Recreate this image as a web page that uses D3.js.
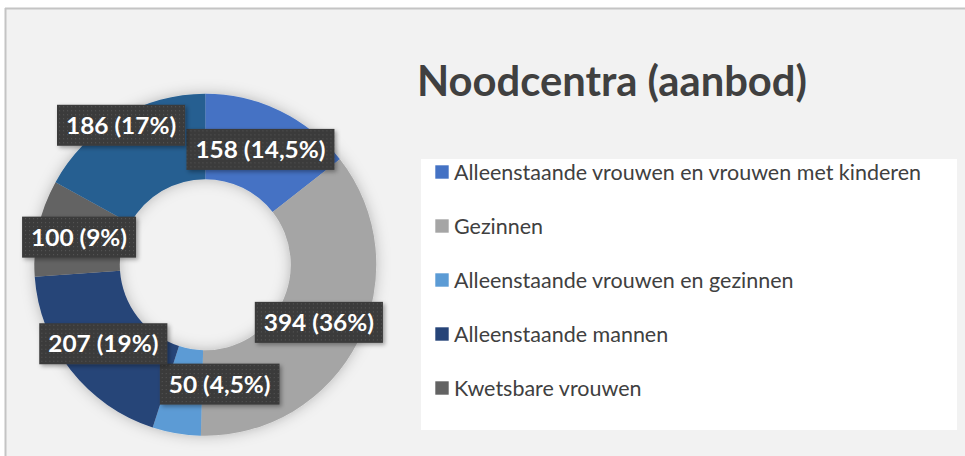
<!DOCTYPE html>
<html>
<head>
<meta charset="utf-8">
<script src="https://cdn.jsdelivr.net/npm/d3@7"></script>
<style>
  html, body { margin: 0; padding: 0; background: #ffffff; }
  svg { display: block; }
</style>
</head>
<body>
<svg id="chart" width="965" height="456"></svg>
<script>
// ---- data ----
const title = "Noodcentra (aanbod)";
const categories = [
  "Alleenstaande vrouwen en vrouwen met kinderen",
  "Gezinnen",
  "Alleenstaande vrouwen en gezinnen",
  "Alleenstaande mannen",
  "Kwetsbare vrouwen",
  "Overig"
];
const values = [158, 394, 50, 207, 100, 186];
const percentLabels = ["14,5%", "36%", "4,5%", "19%", "9%", "17%"];
const colors = ["#4472C4", "#A5A5A5", "#5B9BD5", "#264478", "#636363", "#255E91"];
const legendCount = 5;

// ---- layout ----
const svg = d3.select("#chart");
const W = 965, H = 456;
const cx = 205.3, cy = 264.7, rOuter = 171, rInner = 85.5;
const FONT = "Lato, 'Open Sans', 'DejaVu Sans', sans-serif";

const defs = svg.append("defs");
const glow = defs.append("filter").attr("id", "glow")
  .attr("x", "-20%").attr("y", "-20%").attr("width", "140%").attr("height", "140%");
glow.append("feDropShadow").attr("dx", 0).attr("dy", 0)
  .attr("stdDeviation", 7).attr("flood-color", "#000").attr("flood-opacity", 0.25);
const shadow = defs.append("filter").attr("id", "lblshadow")
  .attr("x", "-20%").attr("y", "-30%").attr("width", "150%").attr("height", "170%");
shadow.append("feDropShadow").attr("dx", 2).attr("dy", 2)
  .attr("stdDeviation", 2).attr("flood-color", "#000").attr("flood-opacity", 0.35);
const pat = defs.append("pattern").attr("id", "dots")
  .attr("patternUnits", "userSpaceOnUse").attr("width", 4).attr("height", 4);
pat.append("rect").attr("width", 4).attr("height", 4).attr("fill", "#3b3b3b");
pat.append("rect").attr("x", 1).attr("y", 1).attr("width", 1).attr("height", 1).attr("fill", "#585858");

// background / frame
svg.append("rect").attr("x", 0).attr("y", 0).attr("width", W).attr("height", H).attr("fill", "#ffffff");
svg.append("rect").attr("x", 5).attr("y", 8).attr("width", W - 5).attr("height", H - 8).attr("fill", "#f2f2f2");
svg.append("line").attr("x1", 5).attr("x2", W).attr("y1", 8.5).attr("y2", 8.5)
  .attr("stroke", "#c4c4c4").attr("stroke-width", 2);
svg.append("line").attr("x1", 5.5).attr("x2", 5.5).attr("y1", 8).attr("y2", H)
  .attr("stroke", "#c4c4c4").attr("stroke-width", 2);

// title
const titleText = svg.append("text")
  .attr("x", 417).attr("y", 96)
  .attr("font-family", FONT).attr("font-weight", 700)
  .attr("font-size", 42).attr("fill", "#404040")
  .text(title);
titleText.attr("textLength", 390).attr("lengthAdjust", "spacingAndGlyphs");

// legend box
svg.append("rect").attr("x", 421).attr("y", 159).attr("width", 536).attr("height", 271).attr("fill", "#ffffff");

const legendY = d3.scalePoint().domain(d3.range(legendCount)).range([172, 388]);
const legend = svg.append("g");
const legItems = legend.selectAll("g").data(d3.range(legendCount)).join("g")
  .attr("transform", i => `translate(0,${legendY(i)})`);
legItems.append("rect").attr("x", 435.3).attr("y", -6.7).attr("width", 13.4).attr("height", 13.4)
  .attr("fill", i => colors[i]);
const legTexts = legItems.append("text").attr("x", 454).attr("y", 7.5)
  .attr("font-family", FONT).attr("font-size", 20.5).attr("fill", "#404040")
  .text(i => categories[i]);
// scale all legend texts uniformly so the longest matches the reference width
const firstLen = legTexts.nodes()[0].getComputedTextLength();
const legRatio = 467 / firstLen;
legTexts.each(function() {
  const L = this.getComputedTextLength();
  d3.select(this).attr("textLength", L * legRatio).attr("lengthAdjust", "spacingAndGlyphs");
});

// donut
const pie = d3.pie().sort(null).value(d => d)(values);
const arc = d3.arc().innerRadius(rInner).outerRadius(rOuter);
const labelArc = d3.arc().innerRadius((rInner + rOuter) / 2).outerRadius((rInner + rOuter) / 2);
const donut = svg.append("g").attr("transform", `translate(${cx},${cy})`).attr("filter", "url(#glow)");
donut.selectAll("path").data(pie).join("path")
  .attr("d", arc)
  .attr("fill", (d, i) => colors[i]);

// data labels (Excel nudged two of them away from their centroids)
const labelNudge = [[0, 0], [0, 0], [37, -7], [0, 0], [0, 0], [-18, -29]];
const lblG = svg.append("g").attr("transform", `translate(${cx},${cy})`);
const lbls = lblG.selectAll("g").data(pie).join("g")
  .attr("transform", (d, i) => {
    const c = labelArc.centroid(d);
    return `translate(${c[0] + labelNudge[i][0]},${c[1] + labelNudge[i][1]})`;
  });
const lblRects = lbls.append("rect").attr("fill", "url(#dots)").attr("filter", "url(#lblshadow)");
const lblTexts = lbls.append("text")
  .attr("text-anchor", "middle").attr("y", 8.5)
  .attr("font-family", FONT).attr("font-weight", 700).attr("font-size", 23.5)
  .attr("fill", "#ffffff")
  .text((d, i) => `${values[i]} (${percentLabels[i]})`);
const refLen = lblTexts.nodes()[0].getComputedTextLength();
const lblRatio = 130 / refLen;
lblTexts.each(function(d, i) {
  const L = this.getComputedTextLength() * lblRatio;
  d3.select(this).attr("textLength", L).attr("lengthAdjust", "spacingAndGlyphs").attr("x", -1);
  d3.select(this.parentNode).select("rect")
    .attr("x", -L / 2 - 10).attr("y", -20.5).attr("width", L + 18).attr("height", 41);
});
</script>
</body>
</html>
